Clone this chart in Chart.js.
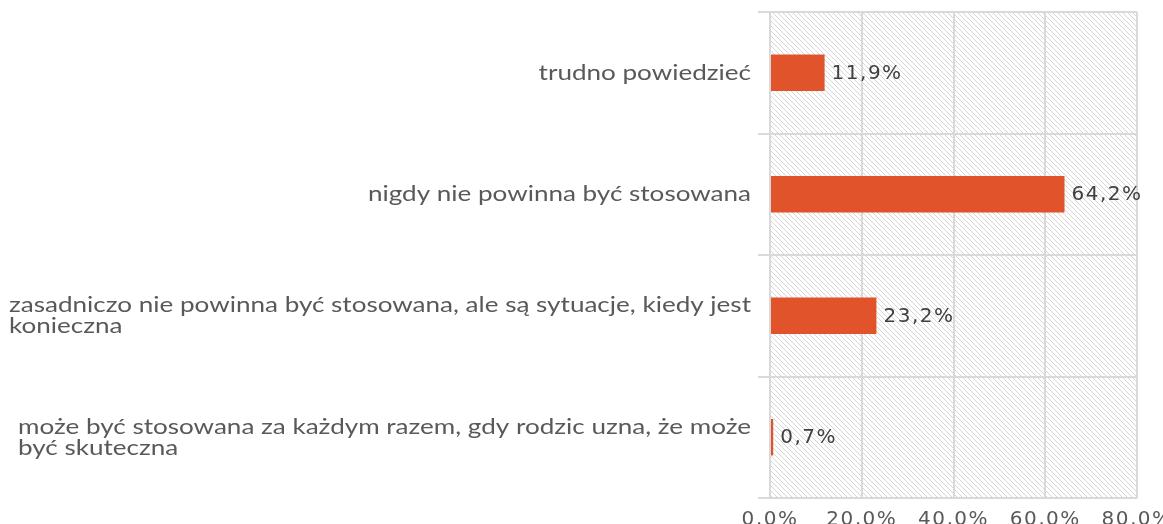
<!DOCTYPE html>
<html>
<head>
<meta charset="utf-8">
<script src="https://cdn.jsdelivr.net/npm/chart.js@4"></script>
<style>
  html, body { margin: 0; padding: 0; overflow: hidden; background: #fff; }
  #wrap { position: absolute; left: 0; top: 0; width: 1200px; height: 550px; }
</style>
</head>
<body>
<div id="wrap"><canvas id="chart" width="1200" height="550"></canvas></div>
<script>
// data
const categories = [
    'trudno powiedzieć',
    'nigdy nie powinna być stosowana',
    ['zasadniczo nie powinna być stosowana, ale są sytuacje, kiedy jest', 'konieczna'],
    ['może być stosowana za każdym razem, gdy rodzic uzna, że może', 'być skuteczna']
];
const values = [11.9, 64.2, 23.2, 0.7];
const xTicks = [0, 20, 40, 60, 80];

const fmt = v => v.toFixed(1).replace('.', ',') + '%';

// hatch pattern for the plot area
function makeHatch() {
    const s = 5;
    const c = document.createElement('canvas');
    c.width = s; c.height = s;
    const g = c.getContext('2d');
    g.fillStyle = '#ffffff';
    g.fillRect(0, 0, s, s);
    g.strokeStyle = '#d6d6d6';
    g.lineWidth = 1;
    [-s, 0, s].forEach(k => {
        g.beginPath();
        g.moveTo(k, 0);
        g.lineTo(k + s, s);
        g.stroke();
    });
    return g.createPattern(c, 'repeat');
}

const hatchBg = {
    id: 'hatchBg',
    beforeDraw(chart) {
        const { ctx, chartArea: a } = chart;
        ctx.save();
        ctx.fillStyle = makeHatch();
        ctx.fillRect(a.left, a.top, a.right - a.left, a.bottom - a.top);
        ctx.restore();
        // wider spacing for the axis tick labels
        ctx.letterSpacing = '1.5px';
    }
};

// category labels: block right aligned, lines left aligned
const catLabels = {
    id: 'catLabels',
    afterDraw(chart) {
        const { ctx } = chart;
        const y = chart.scales.y;
        const right = 751;
        const lh = 21;
        ctx.save();
        ctx.letterSpacing = '0px';
        ctx.font = '21px Lato';
        ctx.fillStyle = '#595959';
        ctx.textBaseline = 'alphabetic';
        const sx = 742 / ctx.measureText(categories[2][0]).width;
        categories.forEach((lab, i) => {
            const lines = Array.isArray(lab) ? lab : [lab];
            const w = Math.max(...lines.map(l => ctx.measureText(l).width)) * sx;
            const cy = y.getPixelForTick(i);
            const first = cy - (lines.length - 1) * lh / 2 + 7;
            lines.forEach((l, j) => {
                ctx.save();
                ctx.translate(right - w, first + j * lh);
                ctx.scale(sx, 1);
                ctx.fillText(l, 0, 0);
                ctx.restore();
            });
        });
        ctx.restore();
    }
};

// value labels next to bars
const valueLabels = {
    id: 'valueLabels',
    afterDatasetsDraw(chart) {
        const { ctx } = chart;
        const meta = chart.getDatasetMeta(0);
        ctx.save();
        ctx.font = '20px "DejaVu Sans"';
        ctx.letterSpacing = '1.5px';
        ctx.fillStyle = '#404040';
        ctx.textBaseline = 'middle';
        meta.data.forEach((bar, i) => {
            ctx.fillText(fmt(values[i]), bar.x + 7, bar.y + 1);
        });
        ctx.restore();
    }
};

new Chart(document.getElementById('chart'), {
    type: 'bar',
    data: {
        labels: categories,
        datasets: [{
            data: values,
            backgroundColor: '#E1532A',
            borderWidth: 0,
            categoryPercentage: 1,
            barPercentage: 0.3
        }]
    },
    options: {
        indexAxis: 'y',
        responsive: false,
        animation: false,
        layout: { padding: { top: 12, right: 63, bottom: 0, left: 0 } },
        plugins: { legend: { display: false }, tooltip: { enabled: false } },
        scales: {
            x: {
                min: 0,
                max: 80,
                afterBuildTicks: s => { s.ticks = xTicks.map(v => ({ value: v })); },
                afterFit: s => { s.height = 52; },
                border: { display: false },
                grid: { color: '#d9d9d9', lineWidth: 2, drawTicks: false },
                ticks: {
                    padding: 10,
                    color: '#595959',
                    font: { family: 'DejaVu Sans', size: 20 },
                    callback: v => fmt(v)
                }
            },
            y: {
                offset: true,
                afterFit: s => { s.width = 770; },
                border: { display: false },
                grid: { offset: true, color: '#d9d9d9', lineWidth: 2, tickLength: 12 },
                ticks: { display: false }
            }
        }
    },
    plugins: [hatchBg, catLabels, valueLabels]
});
</script>
</body>
</html>
